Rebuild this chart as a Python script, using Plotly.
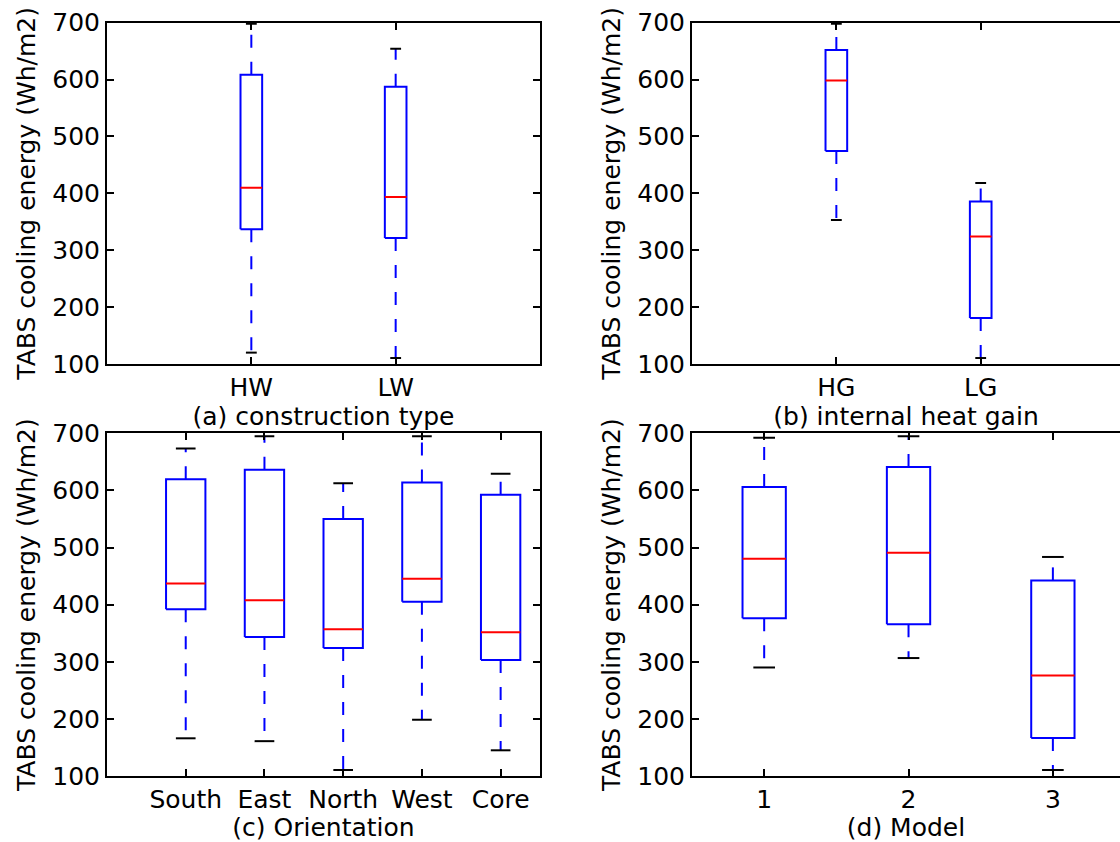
import plotly.graph_objects as go

# ---------------- data ----------------
a_cats = ["HW", "LW"]
a_q1 = [337, 321.5]
a_med = [410, 393.5]
a_q3 = [608.5, 587.5]
a_lo = [120, 110.5]
a_hi = [698, 654]

b_cats = ["HG", "LG"]
b_q1 = [474.5, 181]
b_med = [598.5, 324]
b_q3 = [652, 385.5]
b_lo = [353, 110.5]
b_hi = [698, 418]

c_cats = ["South", "East", "North", "West", "Core"]
c_q1 = [392, 343.5, 324, 405, 303]
c_med = [437, 407.5, 357, 445.5, 351.5]
c_q3 = [619.5, 636, 550, 614, 592.5]
c_lo = [166, 161, 110.5, 198.5, 145]
c_hi = [673.5, 695, 612.5, 695, 629]

d_cats = ["1", "2", "3"]
d_q1 = [376, 365.5, 166.5]
d_med = [480.5, 491, 276]
d_q3 = [606, 641, 442.5]
d_lo = [290, 306.5, 110.5]
d_hi = [692, 695, 483.5]

y_ticks = [100, 200, 300, 400, 500, 600, 700]
y_title = "TABS cooling energy (Wh/m2)"
x_titles = ["(a) construction type", "(b) internal heat gain", "(c) Orientation", "(d) Model"]

# ---------------- layout geometry ----------------
W, H = 1120, 842
FONT = "DejaVu Sans"
FS = 25

panels = [
    dict(cats=a_cats, q1=a_q1, med=a_med, q3=a_q3, lo=a_lo, hi=a_hi,
         xr=[0, 3], dom_x=[107 / W, 540 / W], dom_y=[1 - 364 / H, 1 - 22.7 / H], right=True),
    dict(cats=b_cats, q1=b_q1, med=b_med, q3=b_q3, lo=b_lo, hi=b_hi,
         xr=[0, 2.965], dom_x=[692 / W, 1.0], dom_y=[1 - 364 / H, 1 - 22.7 / H], right=False),
    dict(cats=c_cats, q1=c_q1, med=c_med, q3=c_q3, lo=c_lo, hi=c_hi,
         xr=[0, 5.5], dom_x=[107 / W, 540 / W], dom_y=[1 - 776 / H, 1 - 433.3 / H], right=True),
    dict(cats=d_cats, q1=d_q1, med=d_med, q3=d_q3, lo=d_lo, hi=d_hi,
         xr=[0.5, 3.465], dom_x=[692 / W, 1.0], dom_y=[1 - 776 / H, 1 - 433.3 / H], right=False),
]

fig = go.Figure()
layout = {}

for i, p in enumerate(panels):
    n = len(p["cats"])
    pos = list(range(1, n + 1))
    # matplotlib default box width rule
    dist = max(pos) - min(pos) if n > 1 else 1
    w = min(0.15 * max(dist, 1.0), 0.5)
    cw = w * 0.5
    xa = "x" if i == 0 else f"x{i + 1}"
    ya = "y" if i == 0 else f"y{i + 1}"

    bx, by, mx, my, wx, wy, cx, cy = [], [], [], [], [], [], [], []
    for k in range(n):
        x0, x1 = pos[k] - w / 2, pos[k] + w / 2
        bx += [x0, x1, x1, x0, x0, None]
        by += [p["q1"][k], p["q1"][k], p["q3"][k], p["q3"][k], p["q1"][k], None]
        mx += [x0, x1, None]
        my += [p["med"][k], p["med"][k], None]
        wx += [pos[k], pos[k], None, pos[k], pos[k], None]
        wy += [p["q3"][k], p["hi"][k], None, p["q1"][k], p["lo"][k], None]
        cx += [pos[k] - cw / 2, pos[k] + cw / 2, None, pos[k] - cw / 2, pos[k] + cw / 2, None]
        cy += [p["hi"][k], p["hi"][k], None, p["lo"][k], p["lo"][k], None]

    common = dict(xaxis=xa, yaxis=ya, mode="lines", hoverinfo="skip", showlegend=False)
    fig.add_trace(go.Scatter(x=wx, y=wy, line=dict(color="#0000ff", width=2, dash="13px,14px"), **common))
    fig.add_trace(go.Scatter(x=cx, y=cy, line=dict(color="#000000", width=2), **common))
    fig.add_trace(go.Scatter(x=bx, y=by, line=dict(color="#0000ff", width=2), **common))
    fig.add_trace(go.Scatter(x=mx, y=my, line=dict(color="#ff0000", width=2), **common))

    kx = "xaxis" if i == 0 else f"xaxis{i + 1}"
    ky = "yaxis" if i == 0 else f"yaxis{i + 1}"
    layout[kx] = dict(
        domain=p["dom_x"], range=p["xr"], anchor=ya, automargin=False,
        tickvals=pos, ticktext=p["cats"],
        showline=True, linecolor="black", linewidth=2, mirror="allticks",
        ticks="inside", ticklen=7, tickwidth=1.5, tickcolor="black",
        showgrid=False, zeroline=False,
        tickfont=dict(family=FONT, size=FS, color="black"),
        title=dict(text=x_titles[i], font=dict(family=FONT, size=FS, color="black"), standoff=2),
    )
    layout[ky] = dict(
        domain=p["dom_y"], range=[100, 700], anchor=xa, automargin=False,
        tickvals=y_ticks, ticktext=[str(v) for v in y_ticks],
        showline=True, linecolor="black", linewidth=2,
        mirror="allticks" if p["right"] else False,
        ticks="inside", ticklen=7, tickwidth=1.5, tickcolor="black",
        showgrid=False, zeroline=False,
        tickfont=dict(family=FONT, size=FS, color="black"),
        title=dict(text=y_title, font=dict(family=FONT, size=FS, color="black"), standoff=10),
    )

fig.update_layout(
    width=W, height=H,
    margin=dict(l=0, r=0, t=0, b=0, autoexpand=False),
    paper_bgcolor="white", plot_bgcolor="white",
    font=dict(family=FONT, size=FS, color="black"),
    **layout,
)

fig.write_html("out.html")
